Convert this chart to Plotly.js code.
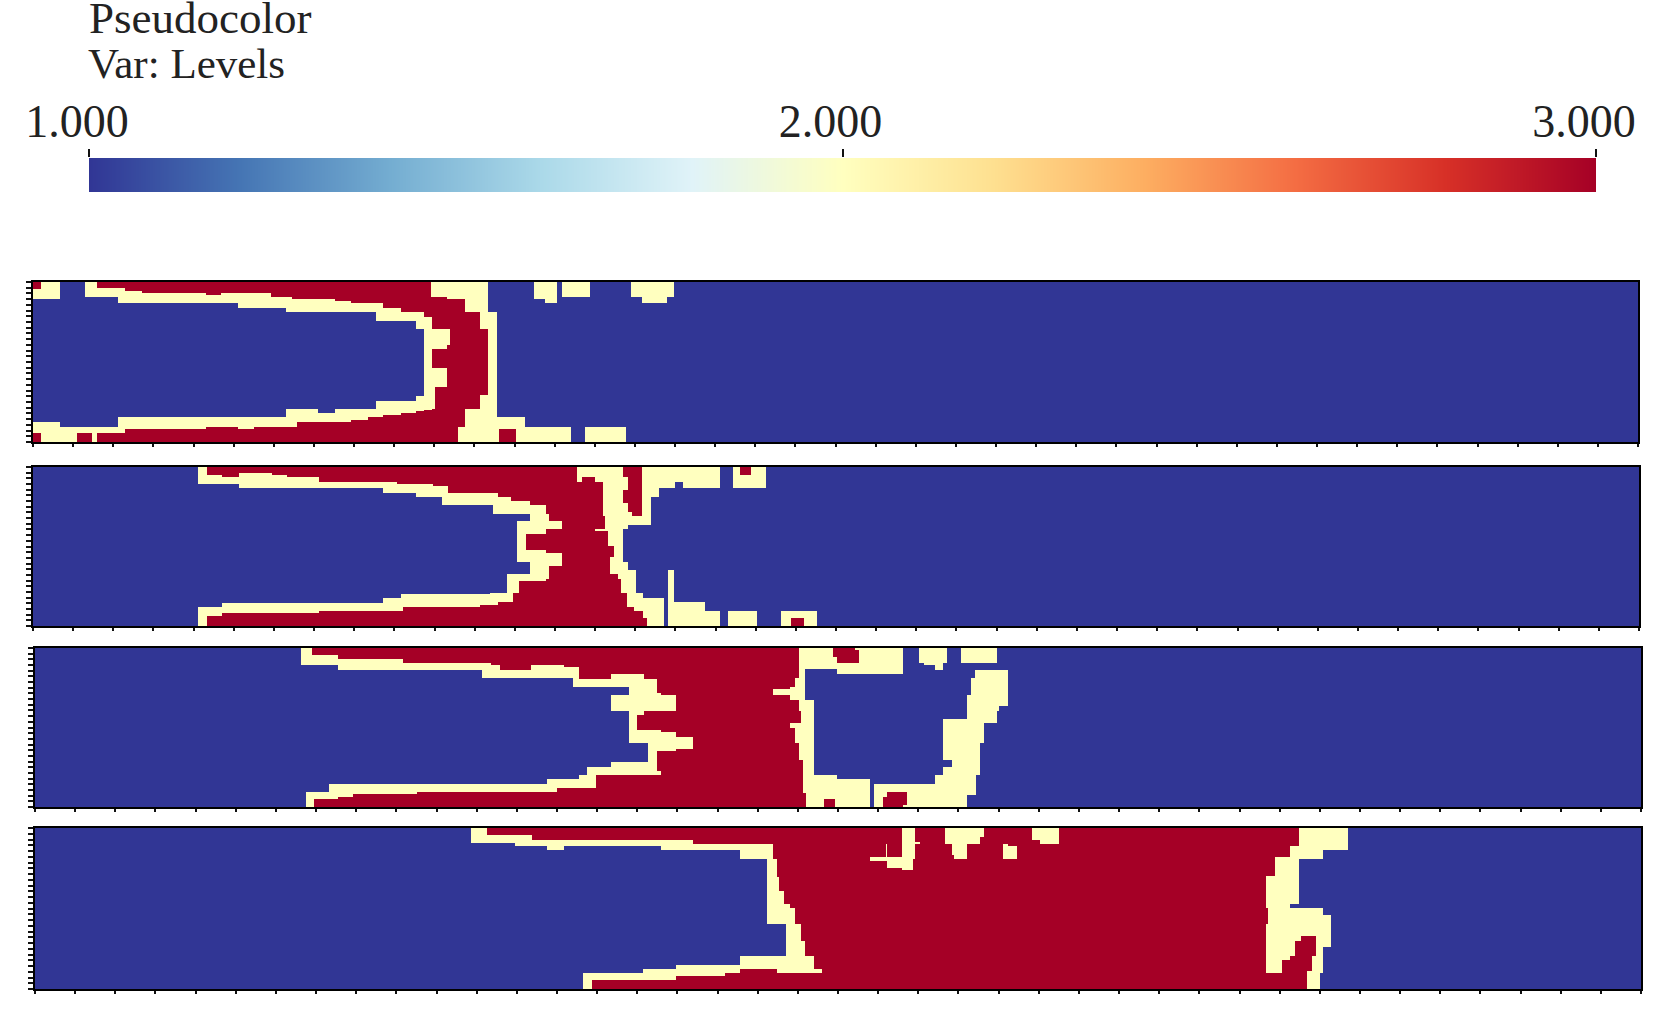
<!DOCTYPE html>
<html>
<head>
<meta charset="utf-8">
<script src="https://cdn.plot.ly/plotly-3.0.1.min.js"></script>
<style>html,body{margin:0;padding:0;background:#fff}#chart{width:1660px;height:1021px}</style>
</head>
<body>
<div id="chart"></div>
<script>
// Levels: 1 = coarse (blue), 2 = interface (cream), 3 = fine (red)
const levelScale = [[0,'#313695'],[0.1,'#4575b4'],[0.2,'#74add1'],[0.3,'#abd9e9'],[0.4,'#e0f3f8'],[0.5,'#ffffbf'],[0.6,'#fee090'],[0.7,'#fdae61'],[0.8,'#f46d43'],[0.9,'#d73027'],[1,'#a50026']];
const rampValues = [1,1.05,1.1,1.15,1.2,1.25,1.3,1.35,1.4,1.45,1.5,1.55,1.6,1.65,1.7,1.75,1.8,1.85,1.9,1.95,2,2.05,2.1,2.15,2.2,2.25,2.3,2.35,2.4,2.45,2.5,2.55,2.6,2.65,2.7,2.75,2.8,2.85,2.9,2.95,3];
const rampTicks = [1,2,3];
const titleLines = ['Pseudocolor','Var: Levels'];

const panelLeft = [33,33,35,35];
const panelRight = [1638,1639,1641,1641];
const panelTop = [282,467,648,828];
const panelBottom = [442,626,807,989];

// Each run: [x0, x1, y0, level, y1, level, y2, ...] painted in order over a level-1 field.
const frame1a = [
[40,62,35,3,57,2,88],[62,120,35,2,88],[196,230,35,2,81],[230,294,35,3,55,2,81],[294,314,35,3,55,2,100],
[314,365,35,3,62,2,100],[365,558,35,3,68,2,100],[558,604,35,3,75,2,100],[604,655,35,3,68,2,100],
[655,752,35,3,68,2,114],[752,798,35,3,81,2,114],[798,817,35,3,81,2,126],[817,946,35,3,88,2,126],
[946,992,35,3,94,2,126],[992,1021,35,3,100,2,126],
[40,62,457,2,490,3,516],[62,120,457,2,516],[120,171,470,2,516],[171,216,470,2,490,3,516],[216,230,470,2,516],
[230,294,470,2,490,3,516],[294,314,442,2,490,3,516],[314,558,442,2,476,3,516],[558,655,442,2,470,3,516],
[655,702,442,2,476,3,516],[702,798,442,2,470,3,516],[798,830,417,2,470,3,516],[830,895,417,2,456,3,516],
[895,946,430,2,456,3,516],[946,992,417,2,456,3,516],[992,1021,417,2,450,3,516]];
const frame1b = [
[60,108,35,3,100,2,126],[108,130,35,3,100,2,152],[130,182,35,3,114,2,152],[182,227,35,3,126,2,152],
[227,252,35,3,126,2,178,1,378,2,422,3,516],
[60,84,417,2,450,3,516],[84,108,417,2,442,3,516],[108,130,392,2,442,3,516],[130,182,392,2,436,3,516],[182,227,392,2,430,3,516],
[252,445,35,3,516],
[272,445,35,2,81],[322,445,81,2,88],[375,445,88,2,126],[420,470,126,2,178],[445,470,178,2,375],[420,470,375,2,417],
[375,470,417,2,442],[375,555,442,2,470],[355,692,470,2,516],[478,529,476,3,516],[736,859,470,2,516],
[582,652,35,2,88],[614,652,88,2,100],[666,750,35,2,81],[873,1002,35,2,81],[905,982,81,2,100],
[252,277,140,2,420],[277,330,178,2,225],[277,322,225,2,238],[277,322,295,2,352],[277,284,352,2,418]];
const frame2a = [
[24,50,35,2,86],[50,95,35,3,61,2,86],[95,148,35,3,67,2,86],[148,245,35,3,54,2,100],[245,290,35,3,61,2,100],
[290,387,35,3,67,2,100],[387,580,35,3,80,2,100],[580,620,35,3,80,2,113],[620,678,35,3,86,2,113],
[678,730,35,3,86,2,125],[730,756,35,3,94,2,125],[756,775,35,3,94,2,151],[775,901,35,3,113,2,151],
[24,50,456,2,514],[50,95,456,2,482,3,514],[95,387,443,2,475,3,514],[387,580,443,2,468,3,514],
[580,633,430,2,468,3,514],[633,639,416,2,468,3,514],[639,870,416,2,455,3,514],[870,901,416,2,449,3,514]];
const frame2b = [
[30,292,35,3,80],[305,345,67,3,80],[30,370,80,3,178],[30,376,178,3,222],[30,378,222,3,228],[30,385,228,3,274],
[30,403,274,3,306],[30,390,306,3,358],[30,415,358,3,372],[30,423,372,3,415],[30,442,415,3,455],[30,462,455,3,468],
[30,488,468,3,488],[30,500,488,3,514],
[292,430,35,2,67],[292,305,67,2,80],[345,443,67,2,80],[370,443,80,2,105],[370,430,105,2,145],[370,443,145,2,172],
[370,456,172,2,183],[376,513,183,2,210],[376,443,210,2,222],[345,430,222,2,228],[385,430,228,2,274],[403,430,274,2,306],
[390,430,306,2,320],[390,443,320,2,346],[390,468,346,2,358],[415,468,358,2,372],[423,468,372,2,415],[442,488,415,2,430],
[442,552,430,2,455],[462,552,455,2,468],[488,552,468,2,488],[500,552,488,2,514],
[430,487,35,3,67],[443,487,67,3,105],[430,487,105,3,145],[443,487,145,3,172],[456,487,172,3,183],
[487,720,35,2,80],[487,584,80,2,100],[610,720,80,2,100],[487,538,100,2,125],[487,513,125,2,183],
[760,857,35,2,100],[780,812,35,3,61],
[565,583,346,2,442],[565,675,442,2,468],[565,720,468,2,514],[745,830,468,2,514],[902,1010,468,2,514],[933,972,488,3,514],
[30,40,35,3,113,2,151],[40,55,35,3,113,2,178],[55,93,35,3,125,2,178],[93,150,35,3,138,2,178],
[150,197,151,2,178],[150,208,178,2,197],[112,247,197,2,222],[112,197,222,2,236],[112,138,236,2,285],[112,197,285,2,293],
[112,247,293,2,320],[150,247,320,2,332],[150,208,332,2,358],[80,208,358,2,372],[80,197,372,2,378],[80,118,378,2,415],
[30,98,415,2,442],[30,55,442,2,449],
[30,40,151,1,415],[40,112,178,1,358],[40,80,358,1,415],[112,150,178,1,197],[112,150,320,1,358]];
const frame3a = [
[33,66,24,2,76],[66,144,24,3,44,2,76],[144,338,24,3,56,2,90],[338,576,24,3,70,2,90],[576,604,24,3,70,2,114],
[604,630,24,3,76,2,114],[630,724,24,3,90,2,114],[724,822,24,3,76,2,114],[822,848,24,3,82,2,114],[848,867,24,3,82,2,140],
[47,72,457,2,502],[72,118,457,2,476,3,502],[118,144,432,2,476,3,502],[144,190,432,2,470,3,502],[190,382,432,2,463,3,502],
[382,771,432,2,457,3,502],[771,802,418,2,457,3,502],[802,867,418,2,444,3,502],
[867,1212,24,3,502],
[964,1062,101,2,116],[867,1100,116,2,160],[867,1113,160,2,166],[964,1158,166,2,212],[1016,1062,212,2,224],[1016,1042,224,2,270],
[1016,1113,270,2,277],[1016,1158,277,2,290],[1016,1212,290,2,328],[1016,1158,328,2,334],[867,1100,334,2,392],[867,1113,392,2,405],[867,919,405,2,444],
[867,1016,140,1,166],[867,964,166,1,212],[867,1016,212,1,308],[867,1074,308,1,366],[867,964,366,1,380],[867,892,380,1,405]];
const frame3b = [
[30,358,24,3,502],[358,363,212,3,250],[358,370,360,3,458],[358,377,458,3,502],
[0,40,290,2,328],
[358,472,24,2,88],[472,668,24,2,101],[460,525,24,3,30],[460,537,30,3,50],[472,537,50,3,70],
[358,376,88,2,115],[344,376,115,2,142],[330,376,142,2,180],[279,330,147,2,165],[358,402,180,2,212],[363,402,212,2,250],
[330,402,250,2,264],[344,402,264,2,308],[358,402,308,2,360],[370,402,360,2,405],[370,472,405,2,418],[370,570,418,2,458],
[377,570,458,2,502],[433,466,477,3,502],
[886,984,90,2,115],[873,984,115,2,165],[862,984,165,2,198],[862,957,198,2,212],[862,951,212,2,238],[790,951,238,2,250],
[790,912,250,2,308],[790,900,308,2,360],[816,900,360,2,380],[790,900,380,2,406],[764,887,406,2,432],[583,887,432,2,464],[583,860,464,2,502],
[621,680,457,3,495],[609,668,470,3,502],
[718,802,24,2,70],[732,790,70,2,76],[764,788,76,2,89],[842,951,24,2,70]];
const frame4a = [
[64,110,25,2,70],[110,194,25,3,45,2,70],[194,245,25,3,45,2,77],[245,292,25,3,60,2,77],[292,342,25,3,60,2,91],
[342,634,25,3,60,2,77],[634,730,25,3,60,2,91],[730,871,25,3,72,2,91],
[400,426,460,2,506],[426,580,460,2,480,3,506],[580,678,447,2,480,3,506],[678,826,434,2,467,3,506],[826,871,434,2,460,3,506],
[871,1212,25,3,506],
[871,968,72,2,117],[950,982,117,2,170],[950,988,170,2,213],[950,1002,213,2,252],[950,1020,252,2,265],[950,1034,265,2,312],
[1008,1052,312,2,364],[1008,1066,364,2,408],[871,1092,408,2,447],[982,1117,447,2,460],
[871,950,117,1,408],[950,1008,312,1,408]];
const frame4b = [
[30,1238,25,3,506],[1238,1357,460,3,506],[1238,1263,25,3,168],[1263,1307,25,3,110],[1307,1332,25,3,77],[1238,1244,265,3,312],
[1332,1475,25,2,77],[1307,1475,77,2,90],[1307,1401,90,2,110],[1263,1401,110,2,117],[1263,1332,117,2,168],[1238,1332,168,2,252],
[1238,1307,252,2,265],[1244,1401,265,2,285],[1244,1425,285,2,312],[1238,1425,312,2,382],[1238,1401,382,2,460],[1357,1394,460,2,506],
[1338,1382,349,3,363],[1320,1382,363,3,408],[1307,1369,408,3,421],[1282,1369,421,3,453],[1282,1357,453,3,460],
[181,218,25,2,117],[218,232,66,2,71],[87,136,110,2,124],[133,136,72,2,110],[136,212,110,2,144],[181,212,144,2,150],
[306,418,25,2,52],[306,407,52,2,71],[325,369,71,2,105],[331,369,105,2,117],
[474,488,71,2,117],[488,513,77,2,117],[556,637,25,2,60],[581,637,60,2,71]];

// [runs, origin x, origin y, x scale] for each reading of a panel
const panelFrames = [
  [[frame1a,20,270,3],[frame1b,340,270,3]],
  [[frame2a,190,455,3],[frame2b,480,455,3]],
  [[frame3a,290,640,3],[frame3b,680,640,3]],
  [[frame4a,450,820,3],[frame4b,840,820,1568/540]]
];

function buildGrid(frames,l,r,t,b){
  const rects=[];
  // Cells touching the frame run slightly past it so that no pale seam shows under the axis line.
  const snap=(v,lo,hi)=>v<=lo+1?lo-3:(v>=hi-1?hi+3:v);
  frames.forEach(([runs,ox,oy,fx])=>runs.forEach(run=>{
    const x0=snap(ox+run[0]/fx,l,r), x1=snap(ox+run[1]/fx,l,r);
    for(let i=2;i+2<run.length;i+=2){
      const y0=snap(oy+run[i]/3,t,b), y1=snap(oy+run[i+2]/3,t,b);
      rects.push([x0,x1,y0,y1,run[i+1]]);
    }
  }));
  const rnd=v=>Math.round(v*10)/10;
  const uniq=a=>[...new Set(a.map(rnd))].sort((p,q)=>p-q);
  const xs=uniq([l-3,r+3].concat(rects.flatMap(q=>[q[0],q[1]])));
  const ys=uniq([t-3,b+3].concat(rects.flatMap(q=>[q[2],q[3]])));
  const z=ys.slice(1).map(()=>new Array(xs.length-1).fill(1));
  rects.forEach(([x0,x1,y0,y1,v])=>{
    const a=xs.indexOf(rnd(x0)),c=xs.indexOf(rnd(x1)),d=ys.indexOf(rnd(y0)),e=ys.indexOf(rnd(y1));
    for(let j=d;j<e;j++)for(let i=a;i<c;i++)z[j][i]=v;
  });
  return {xs,ys,z};
}

const W=1660,H=1021;
const traces=[{
  type:'heatmap',x:rampValues,y:[0,1],z:[rampValues,rampValues],zmin:1,zmax:3,zsmooth:'best',
  colorscale:levelScale,showscale:false,xaxis:'x',yaxis:'y',hoverinfo:'skip'
}];
const layout={
  width:W,height:H,margin:{l:0,r:0,t:0,b:0},paper_bgcolor:'#fff',plot_bgcolor:'#fff',showlegend:false,
  font:{family:'"Liberation Serif",serif',color:'#222'},
  xaxis:{domain:[89/W,1596/W],range:[1,3],side:'top',anchor:'y',tickmode:'array',tickvals:rampTicks,tickformat:'.3f',
    ticks:'outside',ticklen:8,tickwidth:2,tickcolor:'#111',showgrid:false,zeroline:false,showline:false,
    tickfont:{size:46,family:'"Liberation Serif",serif',color:'#222'},ticklabelshift:-12,ticklabelstandoff:-6},
  yaxis:{domain:[1-192.5/H,1-158/H],range:[0,1],anchor:'x',visible:false},
  annotations:[
    {text:titleLines[0],xref:'paper',yref:'paper',x:86.5/W,y:1-18/H,xanchor:'left',yanchor:'middle',showarrow:false,font:{size:45,family:'"Liberation Serif",serif',color:'#222'}},
    {text:titleLines[1],xref:'paper',yref:'paper',x:86/W,y:1-63.5/H,xanchor:'left',yanchor:'middle',showarrow:false,font:{size:43,family:'"Liberation Serif",serif',color:'#222'}}
  ]
};
panelFrames.forEach((frames,i)=>{
  const l=panelLeft[i],r=panelRight[i],t=panelTop[i],b=panelBottom[i],n=i+2;
  const g=buildGrid(frames,l,r,t,b);
  traces.push({type:'heatmap',x:g.xs,y:g.ys,z:g.z,zmin:1,zmax:3,colorscale:levelScale,showscale:false,
    xaxis:'x'+n,yaxis:'y'+n,hoverinfo:'skip',zsmooth:false});
  layout['xaxis'+n]={domain:[l/W,r/W],range:[l,r],anchor:'y'+n,showticklabels:false,showgrid:false,zeroline:false,
    ticks:'outside',ticklen:3,tickwidth:2,tickcolor:'#111',tick0:l,dtick:(r-l)/40,
    showline:true,mirror:true,linecolor:'#000',linewidth:2};
  layout['yaxis'+n]={domain:[1-b/H,1-t/H],range:[b,t],anchor:'x'+n,showticklabels:false,showgrid:false,zeroline:false,
    ticks:'outside',ticklen:5,tickwidth:2,tickcolor:'#111',tick0:t,dtick:(b-t)/28,
    showline:true,mirror:true,linecolor:'#000',linewidth:2};
});
Plotly.newPlot('chart',traces,layout,{displayModeBar:false,staticPlot:true});
</script>
</body>
</html>
